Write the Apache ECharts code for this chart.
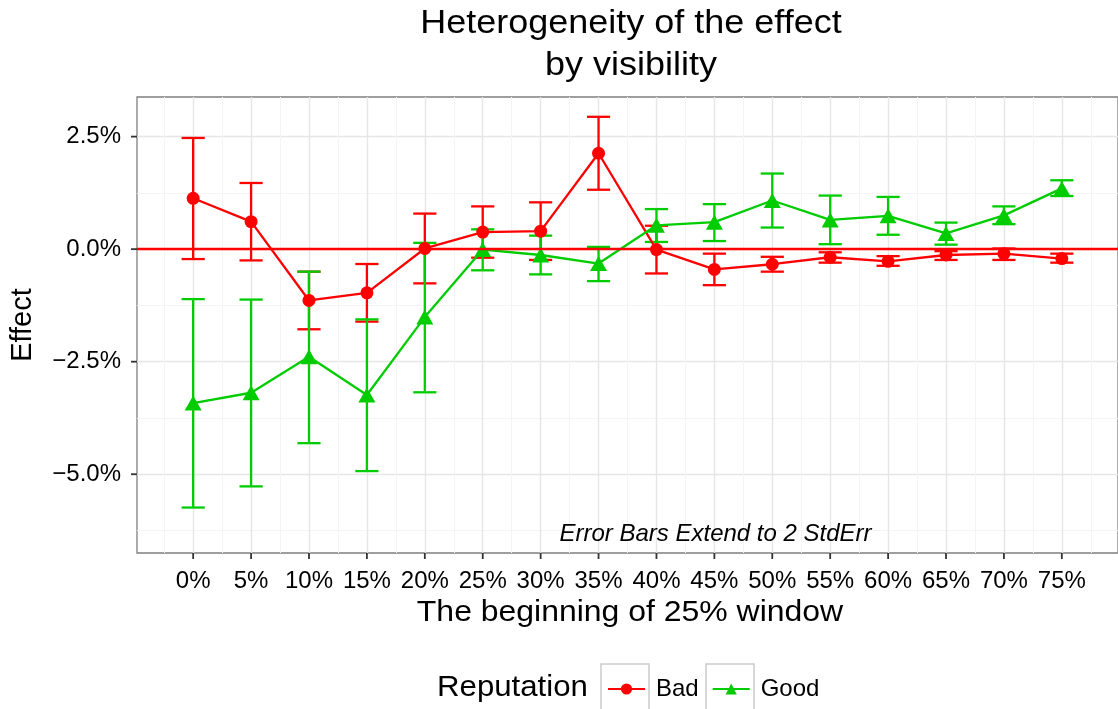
<!DOCTYPE html>
<html>
<head>
<meta charset="utf-8">
<script src="https://cdn.jsdelivr.net/npm/echarts@6/dist/echarts.min.js"></script>
<style>
  html, body { margin: 0; padding: 0; background: #fff; }
  #chart { width: 1118px; height: 709px; }
</style>
</head>
<body>
<div id="chart"></div>
<script>
// window start (%) on x
const windowStart = [0, 5, 10, 15, 20, 25, 30, 35, 40, 45, 50, 55, 60, 65, 70, 75];

// Bad reputation: estimate and +-2 SE bounds (%)
const badEffect = [1.13, 0.61, -1.14, -0.97, 0.015, 0.38, 0.40, 2.13, -0.01, -0.45, -0.335, -0.18, -0.27, -0.13, -0.10, -0.21];
const badLow    = [-0.22, -0.25, -1.78, -1.61, -0.76, -0.19, -0.24, 1.32, -0.54, -0.80, -0.50, -0.30, -0.37, -0.24, -0.24, -0.30];
const badHigh   = [2.47, 1.47, -0.50, -0.33, 0.79, 0.95, 1.04, 2.94, 0.52, -0.10, -0.17, -0.07, -0.155, -0.045, 0.015, -0.10];

// Good reputation
const goodEffect = [-3.42, -3.19, -2.39, -3.24, -1.51, -0.01, -0.13, -0.32, 0.53, 0.60, 1.08, 0.65, 0.74, 0.35, 0.75, 1.35];
const goodLow    = [-5.74, -5.27, -4.31, -4.93, -3.18, -0.47, -0.56, -0.71, 0.16, 0.18, 0.48, 0.11, 0.32, 0.10, 0.555, 1.18];
const goodHigh   = [-1.11, -1.12, -0.50, -1.56, 0.14, 0.44, 0.30, 0.05, 0.89, 1.00, 1.68, 1.19, 1.16, 0.59, 0.95, 1.53];

const xTicks = [0, 5, 10, 15, 20, 25, 30, 35, 40, 45, 50, 55, 60, 65, 70, 75];
const xMinor = [-2.5, 2.5, 7.5, 12.5, 17.5, 22.5, 27.5, 32.5, 37.5, 42.5, 47.5, 52.5, 57.5, 62.5, 67.5, 72.5, 77.5];
const yTicks = [-5, -2.5, 0, 2.5];
const yMinor = [-6.25, -3.75, -1.25, 1.25];

const note = 'Error Bars Extend to 2 StdErr';
const notePos = [45.1, -6.33];

const X_MIN = -4.85, X_MAX = 79.85;
const Y_MIN = -6.75, Y_MAX = 3.38;

const FONT = '"Liberation Sans", Arial, Helvetica, sans-serif';
const RED = '#ff0000';
const GREEN = '#00cc00';
const CAP_HALF = 1; // errorbar width = 2 x-units
const TICK_LEN = 6;

const chart = echarts.init(document.getElementById('chart'), null, { renderer: 'canvas' });

function errorBars(name, lo, hi, color) {
  return {
    name: name,
    type: 'custom',
    silent: true,
    z: 2,
    data: windowStart.map((x, i) => [x, lo[i], hi[i]]),
    renderItem(params, api) {
      const x = api.value(0);
      const top = api.coord([x, api.value(2)]);
      const bot = api.coord([x, api.value(1)]);
      const l = api.coord([x - CAP_HALF, 0])[0];
      const r = api.coord([x + CAP_HALF, 0])[0];
      const style = { stroke: color, lineWidth: 2.3, fill: null };
      return {
        type: 'group',
        children: [
          { type: 'line', shape: { x1: top[0], y1: top[1], x2: bot[0], y2: bot[1] }, style },
          { type: 'line', shape: { x1: l, y1: top[1], x2: r, y2: top[1] }, style },
          { type: 'line', shape: { x1: l, y1: bot[1], x2: r, y2: bot[1] }, style }
        ]
      };
    }
  };
}

const pct = (v) => (v < 0 ? '\u2212' : '') + Math.abs(v).toFixed(1) + '%';

chart.setOption({
  animation: false,
  backgroundColor: '#fff',
  textStyle: { fontFamily: FONT },
  grid: {
    left: 137, top: 97, width: 987, height: 456,
    show: true, borderColor: '#7f7f7f', borderWidth: 1.3, backgroundColor: 'transparent'
  },
  xAxis: [
    {
      type: 'value', min: X_MIN, max: X_MAX,
      axisLine: { show: false, onZero: false },
      axisTick: { show: false, customValues: xTicks },
      axisLabel: { customValues: xTicks, formatter: (v) => v + '%', fontSize: 24, color: '#000', margin: 16, fontFamily: FONT },
      splitLine: { show: true, lineStyle: { color: '#e6e6e6', width: 1.4 } }
    },
    {
      type: 'value', min: X_MIN, max: X_MAX, position: 'bottom',
      axisLine: { show: false, onZero: false },
      axisTick: { show: false, customValues: xMinor },
      axisLabel: { show: false, customValues: xMinor },
      splitLine: { show: true, lineStyle: { color: '#f4f4f4', width: 1 } }
    }
  ],
  yAxis: [
    {
      type: 'value', min: Y_MIN, max: Y_MAX,
      name: 'Effect', nameLocation: 'middle', nameGap: 100, nameRotate: 90,
      nameTextStyle: { fontSize: 29, color: '#000', fontFamily: FONT },
      axisLine: { show: false, onZero: false },
      axisTick: { show: false, customValues: yTicks },
      axisLabel: { customValues: yTicks, formatter: pct, fontSize: 24, color: '#000', margin: 16, fontFamily: FONT },
      splitLine: { show: true, lineStyle: { color: '#e6e6e6', width: 1.4 } }
    },
    {
      type: 'value', min: Y_MIN, max: Y_MAX, position: 'left',
      axisLine: { show: false, onZero: false },
      axisTick: { show: false, customValues: yMinor },
      axisLabel: { show: false, customValues: yMinor },
      splitLine: { show: true, lineStyle: { color: '#f4f4f4', width: 1 } }
    }
  ],
  legend: {
    data: ['Bad', 'Good'],
    left: 607, top: 677, padding: 0,
    itemWidth: 37, itemHeight: 14, itemGap: 13,
    textStyle: { fontSize: 24, color: '#000', fontFamily: FONT, padding: [0, 0, 0, 6] }
  },
  series: [
    errorBars('Bad errorbar', badLow, badHigh, RED),
    errorBars('Good errorbar', goodLow, goodHigh, GREEN),
    {
      name: 'Bad', type: 'line', z: 3,
      data: windowStart.map((x, i) => [x, badEffect[i]]),
      symbol: 'circle', symbolSize: 13,
      itemStyle: { color: RED },
      lineStyle: { color: RED, width: 2.3 },
      emphasis: { disabled: true },
      markLine: {
        silent: true, symbol: ['none', 'none'], label: { show: false },
        lineStyle: { color: RED, width: 2.3, type: 'solid' },
        data: [{ yAxis: 0 }]
      }
    },
    {
      name: 'Good', type: 'line', z: 3,
      data: windowStart.map((x, i) => [x, goodEffect[i]]),
      symbol: 'triangle', symbolSize: [17, 15],
      itemStyle: { color: GREEN },
      lineStyle: { color: GREEN, width: 2.3 },
      emphasis: { disabled: true },
      markPoint: {
        silent: true, symbol: 'circle', symbolSize: 0,
        label: {
          show: true, position: 'inside', formatter: note,
          fontStyle: 'italic', fontSize: 24, color: '#000', fontFamily: FONT
        },
        data: [{ coord: notePos }]
      }
    }
  ]
});

// titles, legend keys and axis tick marks (ticks placed through the chart's own scales)
const decor = [
  { type: 'text', x: 631, y: 24, scaleX: 1.09,
    style: { text: 'Heterogeneity of the effect', align: 'center', verticalAlign: 'middle', font: '33px ' + FONT, fill: '#000' } },
  { type: 'text', x: 631, y: 66, scaleX: 1.09,
    style: { text: 'by visibility', align: 'center', verticalAlign: 'middle', font: '33px ' + FONT, fill: '#000' } },
  { type: 'text', x: 630, y: 613, scaleX: 1.065,
    style: { text: 'The beginning of 25% window', align: 'center', verticalAlign: 'middle', font: '30px ' + FONT, fill: '#000' } },
  { type: 'text', x: 437, y: 688, scaleX: 1.04,
    style: { text: 'Reputation', align: 'left', verticalAlign: 'middle', font: '30px ' + FONT, fill: '#000' } },
  { type: 'rect', x: 601, y: 664, shape: { width: 48, height: 52 }, style: { fill: 'none', stroke: '#cccccc', lineWidth: 1.5 }, z: 100 },
  { type: 'rect', x: 706, y: 664, shape: { width: 48, height: 52 }, style: { fill: 'none', stroke: '#cccccc', lineWidth: 1.5 }, z: 100 }
];
xTicks.forEach((v) => {
  const p = chart.convertToPixel({ gridIndex: 0 }, [v, Y_MIN]);
  decor.push({ type: 'line', z: 50, shape: { x1: p[0], y1: p[1], x2: p[0], y2: p[1] + TICK_LEN }, style: { stroke: '#333333', lineWidth: 1.8 } });
});
yTicks.forEach((v) => {
  const p = chart.convertToPixel({ gridIndex: 0 }, [X_MIN, v]);
  decor.push({ type: 'line', z: 50, shape: { x1: p[0] - TICK_LEN, y1: p[1], x2: p[0], y2: p[1] }, style: { stroke: '#333333', lineWidth: 1.8 } });
});
chart.setOption({ graphic: decor });
</script>
</body>
</html>
